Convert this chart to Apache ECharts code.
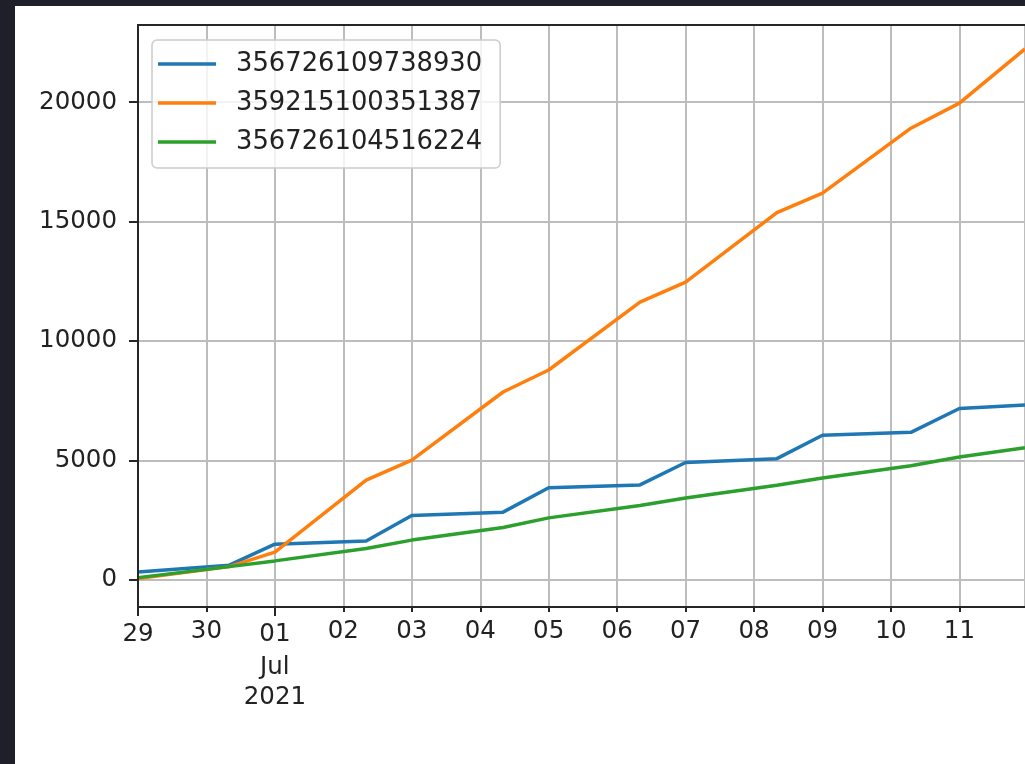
<!DOCTYPE html>
<html>
<head>
<meta charset="utf-8">
<script src="https://cdn.jsdelivr.net/npm/echarts@6/dist/echarts.min.js"></script>
<style>
  html, body { margin: 0; padding: 0; width: 1025px; height: 764px; background: #1e1f29; overflow: hidden; }
  #chart { position: absolute; left: 15px; top: 6px; width: 1010px; height: 758px; }
</style>
</head>
<body>
<div id="chart"></div>
<script>
// Sample times (UTC) and cumulative counts per device
const timestamps = [
  '2021-06-29 00:00', '2021-06-30 08:00', '2021-07-01 00:00', '2021-07-02 08:00',
  '2021-07-03 00:00', '2021-07-04 08:00', '2021-07-05 00:00', '2021-07-06 08:00',
  '2021-07-07 00:00', '2021-07-08 08:00', '2021-07-09 00:00', '2021-07-10 07:00',
  '2021-07-11 00:00', '2021-07-11 23:00'
];
const seriesNames = ['356726109738930', '359215100351387', '356726104516224'];
const blueValues   = [330, 620, 1500, 1630, 2700, 2840, 3860, 3980, 4920, 5080, 6060, 6180, 7180, 7330];
const orangeValues = [60, 560, 1170, 4180, 5020, 7870, 8790, 11630, 12470, 15380, 16190, 18910, 19960, 22230];
const greenValues  = [100, 560, 800, 1320, 1670, 2200, 2600, 3120, 3430, 3970, 4270, 4780, 5150, 5540];
const seriesColors = ['#1f77b4', '#ff7f0e', '#2ca02c'];

// Day tick labels, one per day starting 29 Jun 2021
const dayTickLabels = ['29', '30', '01\nJul\n2021', '02', '03', '04', '05', '06', '07', '08', '09', '10', '11'];
const majorDayTicks = [0, 2];
const yTickValues = [0, 5000, 10000, 15000, 20000];
const yRange = [-1130, 23230];

const DAY0 = Date.UTC(2021, 5, 29);
function dayOffset(ts) {
  const [d, t] = ts.split(' ');
  const [Y, M, D] = d.split('-').map(Number);
  const [h, mi] = t.split(':').map(Number);
  return (Date.UTC(Y, M - 1, D, h, mi) - DAY0) / 864e5;
}
const xs = timestamps.map(dayOffset);
const xMax = xs[xs.length - 1];
const toPairs = vals => vals.map((v, i) => [xs[i], v]);

const FONT = 'DejaVu Sans';
const TEXT = '#222222';
const SPINE = '#262626';
const GRIDC = '#bdbdbd';

function dayLabel(value) {
  const i = Math.round(value);
  if (Math.abs(value - i) > 1e-6 || i < 0 || i >= dayTickLabels.length) return '';
  const lines = dayTickLabels[i].split('\n');
  const major = majorDayTicks.includes(i);
  return lines.map((s, k) => {
    if (k > 0) return '{b|' + s + '}';
    if (!major) return '{n|' + s + '}';
    return (lines.length > 1 ? '{mm|' : '{m|') + s + '}';
  }).join('\n');
}

const chart = echarts.init(document.getElementById('chart'), null, { renderer: 'canvas' });
chart.setOption({
  animation: false,
  backgroundColor: '#ffffff',
  grid: { left: 123, top: 19, width: 891, height: 582, containLabel: false },
  legend: {
    orient: 'vertical',
    left: 137, top: 34,
    data: seriesNames,
    icon: 'rect',
    itemWidth: 58, itemHeight: 3.5, itemGap: 13,
    padding: [11, 18, 13, 6],
    backgroundColor: 'rgba(255,255,255,0.8)',
    borderColor: '#cccccc', borderWidth: 1.5, borderRadius: 5,
    textStyle: { fontFamily: FONT, fontSize: 25.8, color: TEXT, padding: [0, 0, 0, 15] }
  },
  xAxis: [
    { // day labels, short ticks, bottom spine
      type: 'value', position: 'bottom', min: 0, max: xMax, interval: 1, z: 5,
      axisLine: { show: true, onZero: false, lineStyle: { color: SPINE, width: 2, cap: 'square' } },
      axisTick: { show: true, length: 5, lineStyle: { color: SPINE, width: 2 } },
      splitLine: { show: false },
      axisLabel: {
        show: true, margin: 10, formatter: dayLabel, showMaxLabel: false,
        fontFamily: FONT, fontSize: 24.5, color: TEXT,
        rich: {
          n:  { fontFamily: FONT, fontSize: 24.5, color: TEXT, lineHeight: 30 },
          m:  { fontFamily: FONT, fontSize: 24.5, color: TEXT, lineHeight: 30, padding: [5, 0, 0, 0] },
          mm: { fontFamily: FONT, fontSize: 24.5, color: TEXT, lineHeight: 36 },
          b:  { fontFamily: FONT, fontSize: 24.5, color: TEXT, lineHeight: 30 }
        }
      }
    },
    { // vertical grid lines
      type: 'value', position: 'bottom', offset: 0, min: 0, max: xMax, interval: 1, z: 1,
      axisLine: { show: false, onZero: false }, axisTick: { show: false }, axisLabel: { show: false },
      splitLine: { show: true, lineStyle: { color: GRIDC, width: 2 } }
    },
    { // top spine
      type: 'value', position: 'top', min: 0, max: xMax, z: 5,
      axisLine: { show: true, onZero: false, lineStyle: { color: SPINE, width: 2, cap: 'square' } },
      axisTick: { show: false }, axisLabel: { show: false }, splitLine: { show: false }
    },
    { // long ticks at the month-level dates
      type: 'value', position: 'bottom', offset: 0, min: 0, max: xMax, interval: 1, z: 5,
      axisLine: { show: false, onZero: false },
      axisTick: { show: true, length: 9, customValues: majorDayTicks, lineStyle: { color: SPINE, width: 2 } },
      axisLabel: { show: false }, splitLine: { show: false }
    }
  ],
  yAxis: [
    { // labels, ticks, left spine
      type: 'value', position: 'left', min: yRange[0], max: yRange[1], z: 5,
      axisLine: { show: true, onZero: false, lineStyle: { color: SPINE, width: 2, cap: 'square' } },
      axisTick: { show: true, length: 9, customValues: yTickValues, lineStyle: { color: SPINE, width: 2 } },
      axisLabel: {
        show: true, customValues: yTickValues, margin: 21, formatter: v => String(v),
        fontFamily: FONT, fontSize: 24.5, color: TEXT
      },
      splitLine: { show: false }
    },
    { // horizontal grid lines
      type: 'value', position: 'left', offset: 0, min: yRange[0], max: yRange[1], z: 1,
      axisLine: { show: false, onZero: false }, axisTick: { show: false }, axisLabel: { show: false },
      splitLine: { show: true, lineStyle: { color: GRIDC, width: 2 } }
    }
  ],
  series: [blueValues, orangeValues, greenValues].map((vals, k) => ({
    name: seriesNames[k],
    type: 'line',
    xAxisIndex: 0, yAxisIndex: 0,
    data: toPairs(vals),
    symbol: 'none',
    z: 3,
    color: seriesColors[k],
    lineStyle: { color: seriesColors[k], width: 3.5 },
    emphasis: { disabled: true }
  }))
});
</script>
</body>
</html>
